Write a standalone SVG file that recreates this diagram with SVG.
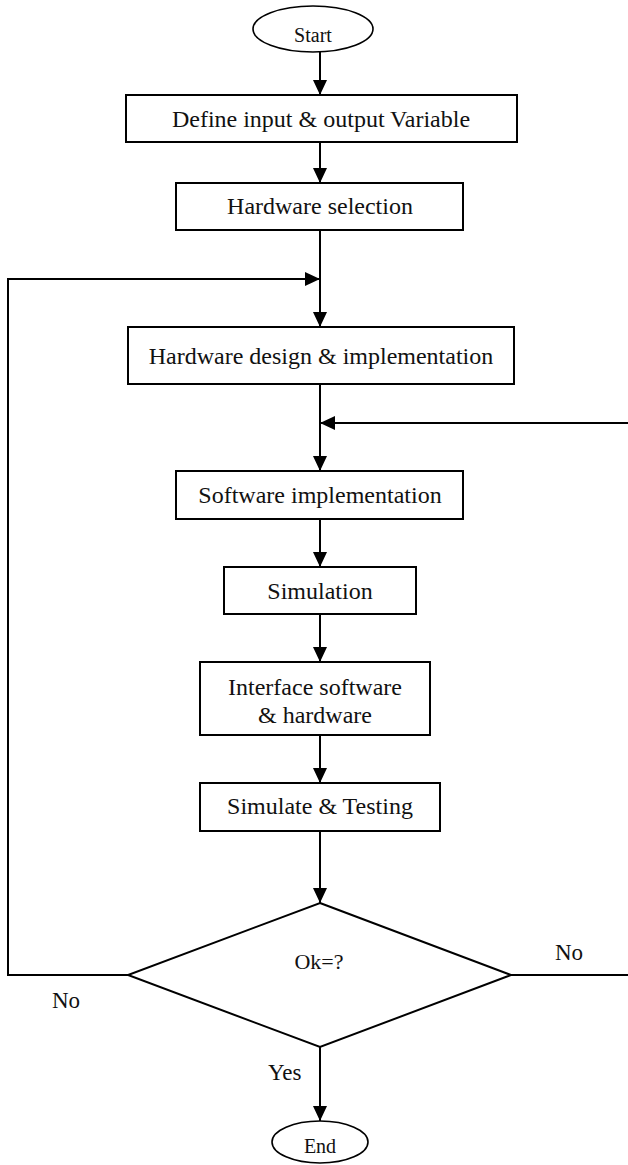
<svg xmlns="http://www.w3.org/2000/svg" width="628" height="1165" viewBox="0 0 628 1165">
<style>
.box{fill:#fff;stroke:#000;stroke-width:2}
.term{fill:#fff;stroke:#000;stroke-width:1.6}
.t{font-family:"Liberation Serif","Times New Roman",serif;font-size:24px;fill:#111;text-anchor:middle}
.s{font-family:"Liberation Serif","Times New Roman",serif;font-size:20px;fill:#111;text-anchor:middle}
.l{font-family:"Liberation Serif","Times New Roman",serif;font-size:23px;fill:#111}
.c{fill:none;stroke:#000;stroke-width:2}
</style>
<defs>
<marker id="ah" markerUnits="userSpaceOnUse" markerWidth="16" markerHeight="14" refX="15" refY="7" orient="auto">
<path d="M0,0 L15,7 L0,14 z" fill="#000"/>
</marker>
</defs>
<g id="connectors">
<line class="c" x1="320" y1="52" x2="320" y2="95" marker-end="url(#ah)"/>
<line class="c" x1="320" y1="142" x2="320" y2="183" marker-end="url(#ah)"/>
<line class="c" x1="320" y1="230" x2="320" y2="327" marker-end="url(#ah)"/>
<polyline class="c" points="128,975 8,975 8,279 320,279" marker-end="url(#ah)"/>
<line class="c" x1="320" y1="384" x2="320" y2="471" marker-end="url(#ah)"/>
<line class="c" x1="628" y1="423" x2="320" y2="423" marker-end="url(#ah)"/>
<line class="c" x1="511" y1="975" x2="628" y2="975"/>
<line class="c" x1="320" y1="519" x2="320" y2="567" marker-end="url(#ah)"/>
<line class="c" x1="320" y1="614" x2="320" y2="662" marker-end="url(#ah)"/>
<line class="c" x1="320" y1="735" x2="320" y2="783" marker-end="url(#ah)"/>
<line class="c" x1="320" y1="831" x2="320" y2="903" marker-end="url(#ah)"/>
<line class="c" x1="320" y1="1047" x2="320" y2="1121" marker-end="url(#ah)"/>
</g>
<g id="start">
<ellipse class="term" cx="313" cy="29" rx="60" ry="23"/>
<text class="s" x="313" y="42">Start</text>
</g>
<g id="define">
<rect class="box" x="126" y="95" width="391" height="47"/>
<text class="t" x="321" y="127">Define input &amp; output Variable</text>
</g>
<g id="hwsel">
<rect class="box" x="176" y="183" width="287" height="47"/>
<text class="t" x="320" y="214">Hardware selection</text>
</g>
<g id="hwdesign">
<rect class="box" x="128" y="327" width="386" height="57"/>
<text class="t" x="321" y="364">Hardware design &amp; implementation</text>
</g>
<g id="software">
<rect class="box" x="176" y="471" width="287" height="48"/>
<text class="t" x="320" y="503">Software implementation</text>
</g>
<g id="simulation">
<rect class="box" x="224" y="567" width="192" height="47"/>
<text class="t" x="320" y="599">Simulation</text>
</g>
<g id="interface">
<rect class="box" x="200" y="662" width="230" height="73"/>
<text class="t" x="315" y="695">Interface software</text>
<text class="t" x="315" y="723">&amp; hardware</text>
</g>
<g id="simtest">
<rect class="box" x="200" y="783" width="240" height="48"/>
<text class="t" x="320" y="814">Simulate &amp; Testing</text>
</g>
<g id="decision">
<polygon class="box" points="320,903 511,975 320,1047 128,975"/>
<text class="t" x="319" y="969" style="font-size:22px">Ok=?</text>
</g>
<g id="labels">
<text class="l" x="555" y="960">No</text>
<text class="l" x="52" y="1008">No</text>
<text class="l" x="268" y="1080">Yes</text>
</g>
<g id="end">
<ellipse class="term" cx="320" cy="1142" rx="48" ry="21"/>
<text class="s" x="320" y="1153">End</text>
</g>
</svg>
